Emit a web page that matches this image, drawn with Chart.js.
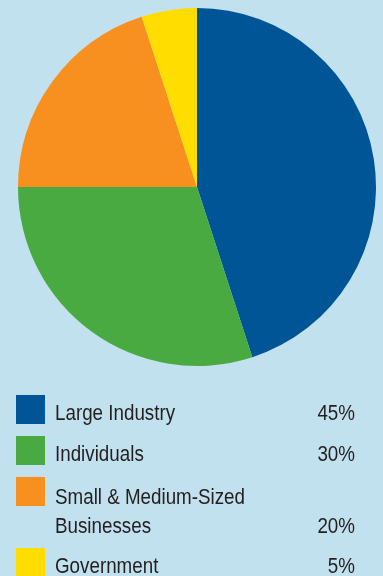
<!DOCTYPE html>
<html>
<head>
    <title>Share by Sector</title>
    <script src="https://cdn.jsdelivr.net/npm/chart.js@4"></script>
    <style>
        html, body {
            margin: 0;
            padding: 0;
            background-color: #c2e1ee;
        }
        .chart-box {
            position: relative;
            width: 383px;
            height: 576px;
        }
    </style>
</head>
<body>
    <div class="chart-box">
        <canvas id="sectorChart" width="383" height="576"></canvas>
    </div>

    <script>
        // Sector shares (percent)
        const sectors = ['Large Industry', 'Individuals', 'Small & Medium-Sized Businesses', 'Government'];
        const shares = [45, 30, 20, 5];
        const sectorColors = ['#005596', '#4aaa42', '#f7901e', '#ffdd00'];
        // how each legend label wraps
        const legendLines = [
            ['Large Industry'],
            ['Individuals'],
            ['Small & Medium-Sized', 'Businesses'],
            ['Government']
        ];

        const legendFont = '22.5px "Liberation Sans", Arial, sans-serif';
        const squeeze = 0.835; // condensed look for the legend type

        // text drawn horizontally squeezed, anchored at x
        function narrowText(ctx, str, x, y, align) {
            ctx.save();
            ctx.translate(x, y);
            ctx.scale(squeeze, 1);
            ctx.textAlign = align;
            ctx.fillText(str, 0, 0);
            ctx.restore();
        }

        // Draws the legend block under the pie
        const sideLegend = {
            id: 'sideLegend',
            afterDraw(chart) {
                const ctx = chart.ctx;
                const meta = chart.getDatasetMeta(0);
                let y = 395;
                ctx.save();
                ctx.font = legendFont;
                ctx.textBaseline = 'alphabetic';
                sectors.forEach((name, i) => {
                    ctx.fillStyle = meta.data[i].options.backgroundColor;
                    ctx.fillRect(16, y, 29, 29);

                    ctx.fillStyle = '#231f20';
                    const lines = legendLines[i];
                    const base = y + (lines.length > 1 ? 27 : 25);
                    lines.forEach((line, j) => {
                        narrowText(ctx, line, 55, base + j * 28.5, 'left');
                    });
                    const last = base + (lines.length - 1) * 28.5;
                    narrowText(ctx, chart.data.datasets[0].data[i] + '%', 355, last, 'right');

                    y += 41 + (lines.length - 1) * 30;
                });
                ctx.restore();
            }
        };

        new Chart(document.getElementById('sectorChart'), {
            type: 'pie',
            data: {
                labels: sectors,
                datasets: [{
                    data: shares,
                    backgroundColor: sectorColors,
                    borderWidth: 0
                }]
            },
            options: {
                responsive: false,
                animation: false,
                layout: {
                    padding: { left: 17, right: 6, top: 8, bottom: 210 }
                },
                plugins: {
                    legend: { display: false },
                    tooltip: { enabled: false }
                }
            },
            plugins: [sideLegend]
        });
    </script>
</body>
</html>
